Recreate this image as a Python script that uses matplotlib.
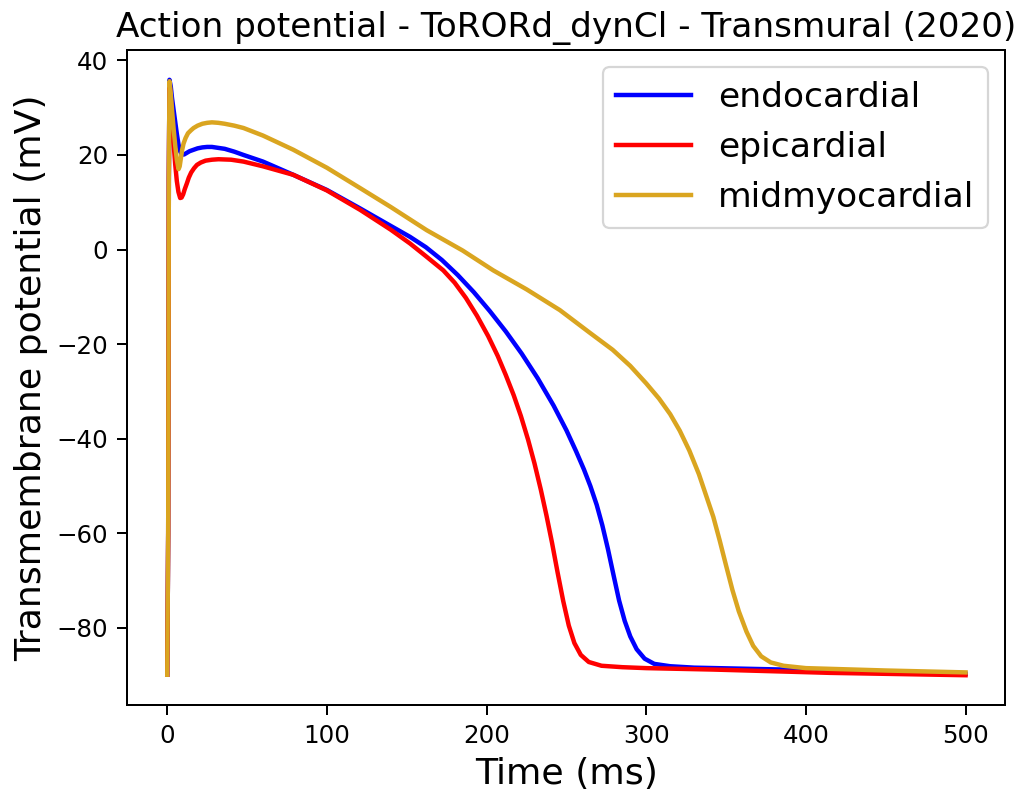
import matplotlib
matplotlib.use("Agg")
import matplotlib.pyplot as plt

# values (time in ms, potential in mV)
endo_t = [0, 0.6, 1.0, 1.4, 2.2, 3.0, 4.0, 5.0, 6.0, 7.0, 8.0, 9.2, 10.5, 12, 14, 16.5,
          19, 22, 25, 28, 32, 36, 42, 47.8, 60, 79, 100, 120.8, 140, 152, 162, 172,
          182, 192, 202, 212, 222, 232, 242, 250, 256, 261, 265, 269, 272.5, 276,
          279.5, 283, 286.5, 290, 294, 299, 305, 315, 330, 400, 450, 500]
endo_v = [-89.9, -60, 15, 35.9, 34.5, 32.0, 29.5, 27.0, 24.5, 22.3, 20.8, 20.1, 20.1,
          20.4, 20.8, 21.1, 21.4, 21.6, 21.7, 21.7, 21.5, 21.3, 20.7, 20.0, 18.6, 15.8,
          12.6, 8.7, 5.0, 2.7, 0.5, -2.2, -5.4, -9.0, -13.0, -17.3, -22.0, -27.2, -33.0,
          -38.2, -42.6, -46.5, -50.0, -54.0, -58.3, -63.3, -68.8, -74.2, -78.5, -81.8,
          -84.5, -86.5, -87.6, -88.1, -88.4, -88.9, -89.2, -89.7]

epi_t = [0, 0.6, 1.0, 1.4, 2.2, 3.0, 4.0, 5.0, 6.0, 7.0, 8.1, 9.0, 10.0, 11, 12.3, 13.5,
         15, 16.8, 18.6, 21, 24, 28, 32.1, 40, 47.8, 60, 79, 100, 120.8, 140, 152, 162,
         172.9, 180, 187, 194, 201, 207, 212, 217, 221.5, 226, 230, 234, 237.5, 241,
         244.5, 248, 251.5, 255, 259, 264, 272, 285, 300, 341.7, 415, 500]
epi_v = [-89.9, -60, 15, 35.3, 32, 27.5, 22.5, 18.0, 14.5, 12.2, 10.9, 11.0, 11.7, 12.8,
         14.0, 15.2, 16.3, 17.2, 17.9, 18.4, 18.8, 19.0, 19.1, 19.0, 18.6, 17.6, 15.8,
         12.5, 8.4, 4.2, 1.3, -1.4, -4.4, -7.0, -10.2, -14.0, -18.3, -22.5, -26.5, -30.8,
         -35.2, -40.2, -45.2, -50.8, -56.2, -62.0, -68.3, -74.3, -79.5, -83.2, -85.7,
         -87.2, -88.0, -88.3, -88.5, -88.8, -89.5, -90.0]

mid_t = [0, 0.6, 1.0, 1.4, 2.2, 3.0, 4.0, 5.0, 6.0, 7.1, 7.8, 8.5, 9.3, 10.2, 11.5, 13,
         14.8, 16.5, 19, 22, 25, 28, 32, 36, 42, 47.8, 60, 79, 100, 120.8, 140, 162.5,
         185, 204.2, 225, 245.9, 264.7, 279, 290, 300, 308, 315, 321, 327, 333, 338,
         342, 346, 350, 354, 358, 362.8, 367, 372, 378, 386, 400, 450, 500]
mid_v = [-89.9, -60, 15, 35.6, 33, 29.5, 25.5, 22, 19.0, 17.0, 17.6, 19.2, 21.0, 22.4,
         23.6, 24.6, 25.2, 25.7, 26.2, 26.6, 26.8, 26.9, 26.8, 26.6, 26.2, 25.7, 24.1,
         21.1, 17.3, 13.0, 9.0, 4.1, -0.2, -4.4, -8.4, -12.8, -17.6, -21.2, -24.6, -28.3,
         -31.5, -34.8, -38.3, -42.5, -47.5, -52.5, -56.5, -61.5, -66.8, -72.0, -76.5,
         -80.8, -83.8, -86.0, -87.3, -88.0, -88.5, -89.0, -89.4]

labels = ["endocardial", "epicardial", "midmyocardial"]
colors = ["blue", "red", "goldenrod"]

fig = plt.figure(figsize=(1021 / 160, 790 / 160), dpi=160)
ax = fig.add_subplot(111)
fig.subplots_adjust(left=0.1247, right=0.9848, bottom=0.1076, top=0.9367)

ax.plot(endo_t, endo_v, color=colors[0], lw=2, label=labels[0])
ax.plot(epi_t, epi_v, color=colors[1], lw=2, label=labels[1])
ax.plot(mid_t, mid_v, color=colors[2], lw=2, label=labels[2])

ax.set_title("Action potential - ToRORd_dynCl - Transmural (2020)", fontsize=15.4)
ax.set_xlabel("Time (ms)", fontsize=16.4)
ax.set_ylabel("Transmembrane potential (mV)", fontsize=16.3)
ax.tick_params(labelsize=11, length=4.5, width=0.9, pad=4)
for s in ax.spines.values():
    s.set_linewidth(0.9)
ax.legend(loc="upper right", fontsize=15.5, handlelength=2.15)

fig.savefig("out.png", dpi=160)
